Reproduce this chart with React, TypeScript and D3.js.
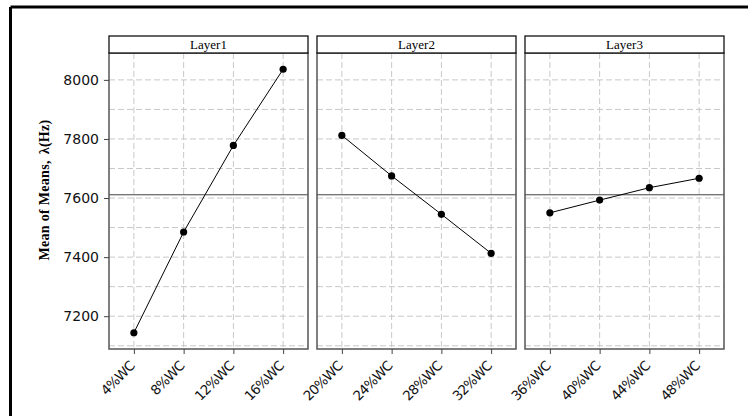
// @ts-nocheck
import * as d3 from "d3";
import { useRef, useEffect } from "react";

const layers = ["Layer1", "Layer2", "Layer3"];
const levels = [
  ["4% WC", "8% WC", "12% WC", "16% WC"],
  ["20% WC", "24% WC", "28% WC", "32% WC"],
  ["36% WC", "40% WC", "44% WC", "48% WC"],
];
const means = [
  [7144, 7485, 7778, 8036],
  [7812, 7675, 7545, 7413],
  [7550, 7593, 7635, 7667],
];
const yTicks = [7200, 7400, 7600, 7800, 8000];
const yGrid = [7100, 7200, 7300, 7400, 7500, 7600, 7700, 7800, 7900, 8000];

export default function App() {
  const ref = useRef();

  useEffect(() => {
    const width = 748;
    const height = 416;
    const svg = d3.select(ref.current);
    svg.selectAll("*").remove();

    // outer frame (only top and left edges show)
    svg.append("line").attr("x1", 10.5).attr("x2", width).attr("y1", 7).attr("y2", 7)
      .attr("stroke", "#000").attr("stroke-width", 3);
    svg.append("line").attr("x1", 10.5).attr("x2", 10.5).attr("y1", 7).attr("y2", height)
      .attr("stroke", "#000").attr("stroke-width", 3);

    const top = 53;
    const bottom = 349;
    const panelW = 199;
    const gap = 9;
    const left0 = 109;

    const y = d3.scaleLinear().domain([7089, 8091]).range([bottom, top]);
    const grand = d3.mean(means.flat());

    layers.forEach((name, i) => {
      const x0 = left0 + i * (panelW + gap);
      const x = d3.scalePoint().domain(levels[i]).range([x0, x0 + panelW]).padding(0.5);
      const g = svg.append("g");

      g.append("rect").attr("x", x0).attr("y", top).attr("width", panelW).attr("height", bottom - top)
        .attr("fill", "#fff");

      g.selectAll(".hg").data(yGrid).enter().append("line")
        .attr("x1", x0).attr("x2", x0 + panelW)
        .attr("y1", (d) => y(d)).attr("y2", (d) => y(d))
        .attr("stroke", "#c8c8c8").attr("stroke-dasharray", "6,3");
      g.selectAll(".vg").data(levels[i]).enter().append("line")
        .attr("x1", (d) => x(d)).attr("x2", (d) => x(d))
        .attr("y1", top).attr("y2", bottom)
        .attr("stroke", "#c8c8c8").attr("stroke-dasharray", "6,3");

      g.append("line").attr("x1", x0).attr("x2", x0 + panelW)
        .attr("y1", y(grand)).attr("y2", y(grand))
        .attr("stroke", "#444").attr("stroke-width", 1);

      const pts = levels[i].map((l, j) => [x(l), y(means[i][j])]);
      g.append("path").attr("d", d3.line()(pts)).attr("fill", "none")
        .attr("stroke", "#000").attr("stroke-width", 1);
      g.selectAll("circle").data(pts).enter().append("circle")
        .attr("cx", (d) => d[0]).attr("cy", (d) => d[1]).attr("r", 3.6).attr("fill", "#000");

      g.append("rect").attr("x", x0).attr("y", top).attr("width", panelW).attr("height", bottom - top)
        .attr("fill", "none").attr("stroke", "#555").attr("stroke-width", 1.5);

      // strip
      g.append("rect").attr("x", x0).attr("y", 36).attr("width", panelW).attr("height", top - 36)
        .attr("fill", "#fff").attr("stroke", "#111").attr("stroke-width", 1.3);
      g.append("text").attr("x", x0 + panelW / 2).attr("y", 49)
        .attr("text-anchor", "middle").attr("font-family", "Liberation Serif")
        .attr("font-size", 13).text(name);

      // x axis
      const xa = g.append("g").attr("transform", `translate(0,${bottom})`)
        .call(d3.axisBottom(x).tickSize(5).tickSizeOuter(0));
      xa.select(".domain").remove();
      xa.selectAll("line").attr("stroke", "#444");
      xa.selectAll("text")
        .attr("font-family", "DejaVu Sans").attr("font-size", 13.5).attr("letter-spacing", -0.8)
        .attr("fill", "#111")
        .attr("text-anchor", "end")
        .attr("dy", 0).attr("y", 0)
        .attr("transform", "translate(1,18) rotate(-45)")
        .text((d) => d.replace(" ", ""));
    });

    const ya = svg.append("g").attr("transform", `translate(${left0},0)`)
      .call(d3.axisLeft(y).tickValues(yTicks).tickFormat(d3.format("d")).tickSize(5).tickSizeOuter(0));
    ya.select(".domain").remove();
    ya.selectAll("line").attr("stroke", "#444");
    ya.selectAll("text").attr("font-family", "DejaVu Sans").attr("font-size", 14)
      .attr("fill", "#111").attr("x", -10);

    const title = svg.append("text")
      .attr("transform", `translate(49,190) rotate(-90)`)
      .attr("text-anchor", "middle").attr("font-family", "Liberation Serif")
      .attr("font-weight", "bold").attr("font-size", 14).attr("letter-spacing", 0.3);
    title.append("tspan").text("Mean of Means,");
    title.append("tspan").attr("dx", 6).text("λ(Hz)");
  }, []);

  return (
    <div>
      <style>{`body{margin:0;background:#fff}`}</style>
      <svg ref={ref} width={748} height={416} style={{ display: "block" }}></svg>
    </div>
  );
}
